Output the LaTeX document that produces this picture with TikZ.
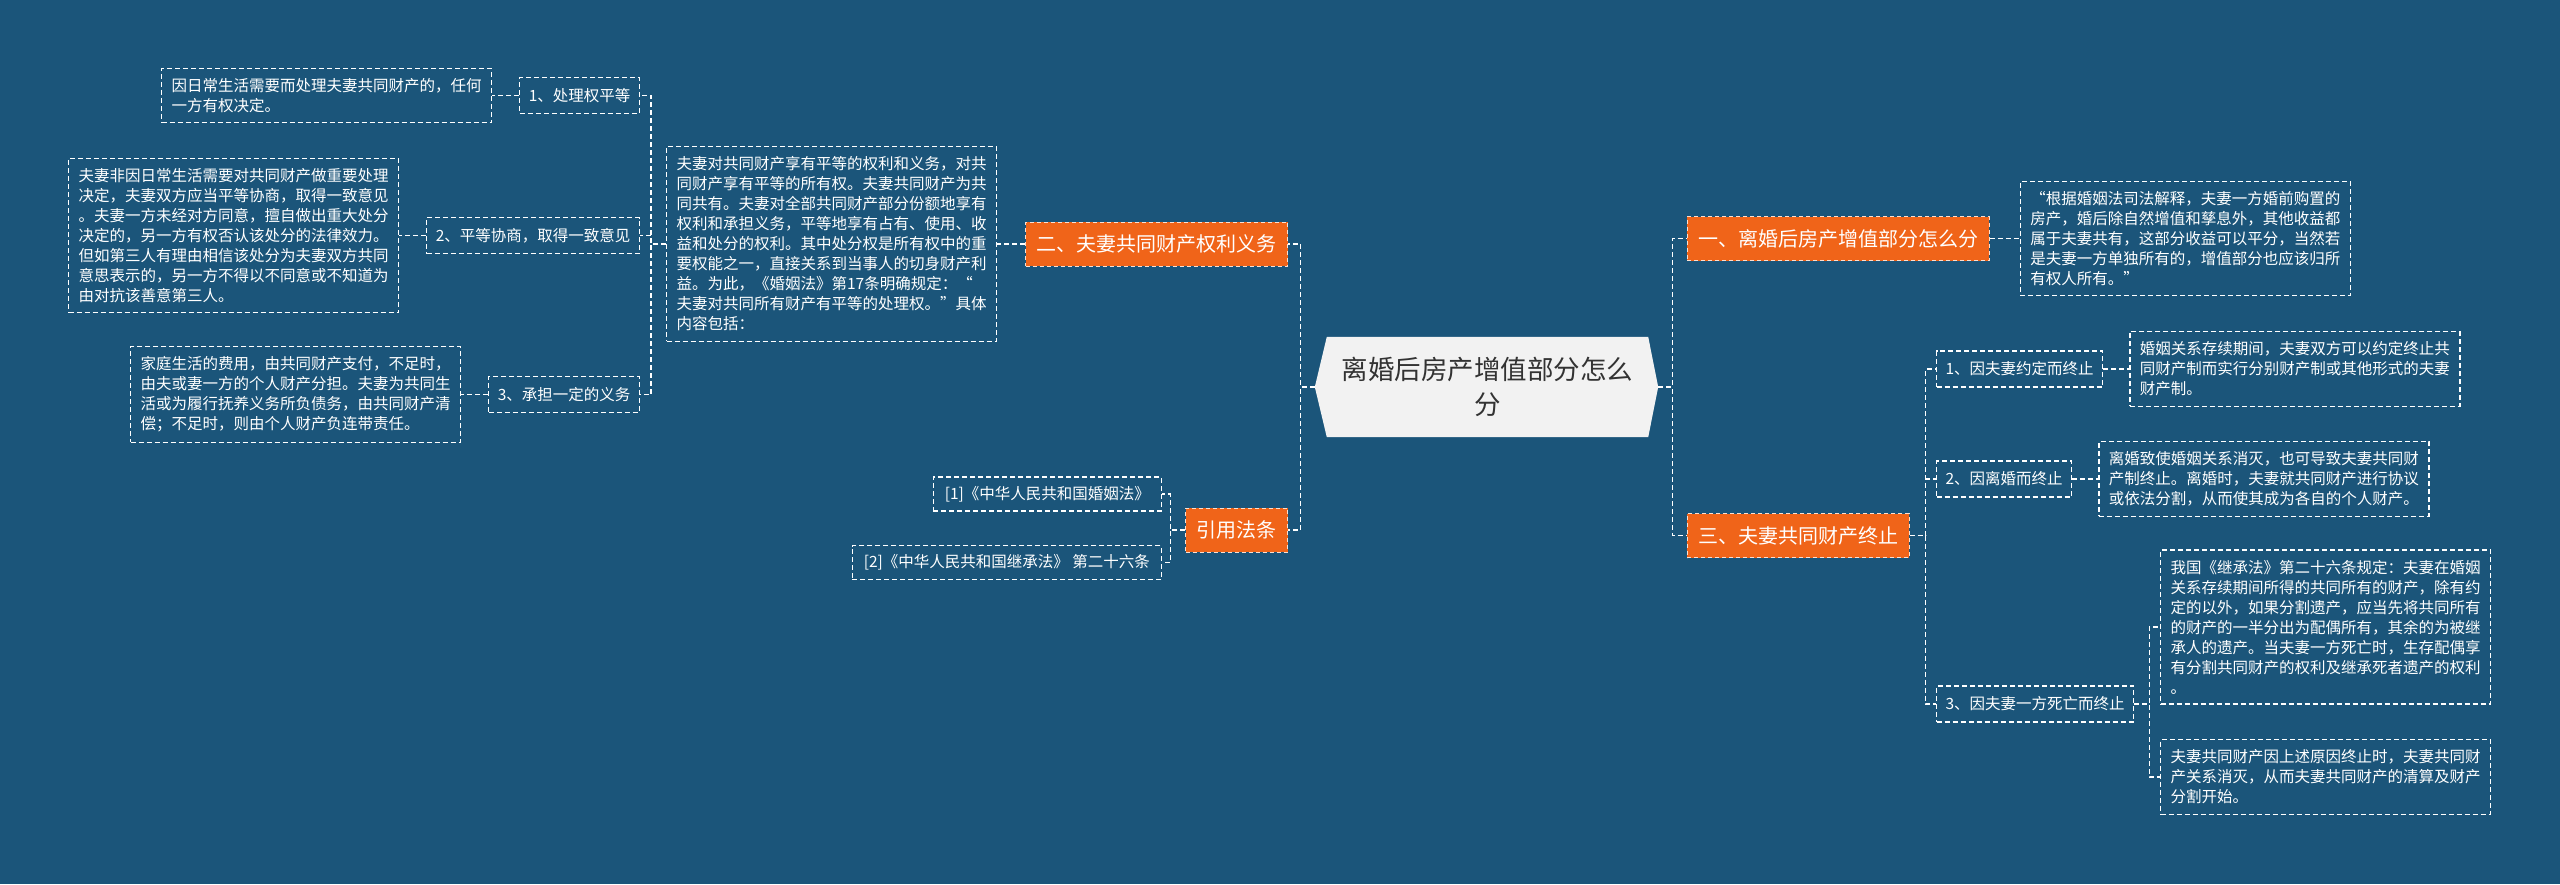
\documentclass[tikz,border=0pt]{standalone}
\usepackage{fontspec}
\newfontfamily\cjk{Noto Sans CJK SC}
\usetikzlibrary{positioning,backgrounds}
\definecolor{mapbg}{RGB}{27,85,122}
\definecolor{branchorange}{RGB}{240,100,25}
\definecolor{rootgray}{RGB}{242,242,242}
\definecolor{roottext}{RGB}{51,51,51}

\begin{document}
\begin{tikzpicture}[
  x=1pt,y=-1pt,
  node distance=27pt,
  every node/.style={font=\cjk,text=white},
  rootnode/.style={inner sep=0pt,minimum width=321pt,minimum height=100pt,
                   align=center,text=roottext,font=\cjk\fontsize{26.5}{35}\selectfont},
  mainbranch/.style={fill=branchorange,draw=white!80!branchorange,dash pattern=on 4pt off 3pt,
                     line width=0.8pt,inner xsep=11pt,minimum height=44pt,
                     font=\cjk\fontsize{20}{24}\selectfont},
  subitem/.style={draw=white,dash pattern=on 5pt off 3pt,line width=1.2pt,inner xsep=9pt,
                  minimum height=36pt,font=\cjk\fontsize{15.5}{20}\selectfont},
  leafbox/.style={subitem,align=left,inner xsep=10pt,inner ysep=10pt},
  refbox/.style={subitem,inner xsep=11.5pt,minimum height=34pt},
  conn/.style={draw=white,dash pattern=on 5pt off 3pt,line width=1.2pt}
]
\begin{scope}[on background layer]
  \fill[mapbg] (0,0) rectangle (2560,884);
\end{scope}
\useasboundingbox (0,0) rectangle (2560,884);

% centre
\node[rootnode] (root) at (1487.5,387) {离婚后房产增值部分怎么\\分};
\begin{scope}[on background layer]
  \fill[rootgray] (root.north west) -- (root.north east) -- ([xshift=10pt]root.east)
    -- (root.south east) -- (root.south west) -- ([xshift=-12pt]root.west) -- cycle;
\end{scope}
\coordinate (rootL) at ([xshift=-12pt]root.west);
\coordinate (rootR) at ([xshift=10pt]root.east);

% left side
\node[mainbranch,anchor=east] (sec2) at (1288,244) {二、夫妻共同财产权利义务};
\node[leafbox,left=28pt of sec2] (desc2)
  {夫妻对共同财产享有平等的权利和义务，对共\\同财产享有平等的所有权。夫妻共同财产为共\\同共有。夫妻对全部共同财产部分份额地享有\\权利和承担义务，平等地享有占有、使用、收\\益和处分的权利。其中处分权是所有权中的重\\要权能之一，直接关系到当事人的切身财产利\\益。为此，《婚姻法》第17条明确规定：“\\夫妻对共同所有财产有平等的处理权。”具体\\内容包括：};
\node[subitem,anchor=east] (pt1) at (640,95.5) {1、处理权平等};
\node[subitem,anchor=east] (pt2) at (640,235.5) {2、平等协商，取得一致意见};
\node[subitem,anchor=east] (pt3) at (640,394.5) {3、承担一定的义务};
\node[leafbox,left=of pt1] (pt1note)
  {因日常生活需要而处理夫妻共同财产的，任何\\一方有权决定。};
\node[leafbox,left=of pt2] (pt2note)
  {夫妻非因日常生活需要对共同财产做重要处理\\决定，夫妻双方应当平等协商，取得一致意见\\。夫妻一方未经对方同意，擅自做出重大处分\\决定的，另一方有权否认该处分的法律效力。\\但如第三人有理由相信该处分为夫妻双方共同\\意思表示的，另一方不得以不同意或不知道为\\由对抗该善意第三人。};
\node[leafbox,left=of pt3] (pt3note)
  {家庭生活的费用，由共同财产支付，不足时，\\由夫或妻一方的个人财产分担。夫妻为共同生\\活或为履行抚养义务所负债务，由共同财产清\\偿；不足时，则由个人财产负连带责任。};

\node[mainbranch,anchor=east] (cite) at (1288,530) {引用法条};
\node[refbox,anchor=east] (ref1) at (1162,494) {[1]《中华人民共和国婚姻法》};
\node[refbox,anchor=east] (ref2) at (1162,562.5) {[2]《中华人民共和国继承法》 第二十六条};

\draw[conn] (rootL) -- ++(-14,0) |- (sec2.east);
\draw[conn] (rootL) -- ++(-14,0) |- (cite.east);
\draw[conn] (sec2.west) -- (desc2.east);
\draw[conn] (desc2.west) -- ++(-15,0) |- (pt1.east);
\draw[conn] (desc2.west) -- ++(-15,0) |- (pt2.east);
\draw[conn] (desc2.west) -- ++(-15,0) |- (pt3.east);
\draw[conn] (pt1.west) -- (pt1note.east);
\draw[conn] (pt2.west) -- (pt2note.east);
\draw[conn] (pt3.west) -- (pt3note.east);
\draw[conn] (cite.west) -- ++(-15,0) |- (ref1.east);
\draw[conn] (cite.west) -- ++(-15,0) |- (ref2.east);

% right side
\node[mainbranch,anchor=west] (sec1) at (1687,238.5) {一、离婚后房产增值部分怎么分};
\node[leafbox,right=30pt of sec1] (note1)
  {“根据婚姻法司法解释，夫妻一方婚前购置的\\房产，婚后除自然增值和孳息外，其他收益都\\属于夫妻共有，这部分收益可以平分，当然若\\是夫妻一方单独所有的，增值部分也应该归所\\有权人所有。”};
\node[mainbranch,anchor=west] (sec3) at (1687,535.5) {三、夫妻共同财产终止};
\node[subitem,anchor=west] (end1) at (1936,369) {1、因夫妻约定而终止};
\node[subitem,anchor=west] (end2) at (1936,479) {2、因离婚而终止};
\node[subitem,anchor=west] (end3) at (1936,704) {3、因夫妻一方死亡而终止};
\node[leafbox,right=26pt of end1] (end1note)
  {婚姻关系存续期间，夫妻双方可以约定终止共\\同财产制而实行分别财产制或其他形式的夫妻\\财产制。};
\node[leafbox,right=26pt of end2] (end2note)
  {离婚致使婚姻关系消灭，也可导致夫妻共同财\\产制终止。离婚时，夫妻就共同财产进行协议\\或依法分割，从而使其成为各自的个人财产。};
\node[leafbox,anchor=west] (end3a) at (2160,627)
  {我国《继承法》第二十六条规定：夫妻在婚姻\\关系存续期间所得的共同所有的财产，除有约\\定的以外，如果分割遗产，应当先将共同所有\\的财产的一半分出为配偶所有，其余的为被继\\承人的遗产。当夫妻一方死亡时，生存配偶享\\有分割共同财产的权利及继承死者遗产的权利\\。};
\node[leafbox,anchor=west] (end3b) at (2160,777)
  {夫妻共同财产因上述原因终止时，夫妻共同财\\产关系消灭，从而夫妻共同财产的清算及财产\\分割开始。};

\draw[conn] (rootR) -- ++(14,0) |- (sec1.west);
\draw[conn] (rootR) -- ++(14,0) |- (sec3.west);
\draw[conn] (sec1.east) -- (note1.west);
\draw[conn] (sec3.east) -- ++(16,0) |- (end1.west);
\draw[conn] (sec3.east) -- ++(16,0) |- (end2.west);
\draw[conn] (sec3.east) -- ++(16,0) |- (end3.west);
\draw[conn] (end1.east) -- (end1note.west);
\draw[conn] (end2.east) -- (end2note.west);
\draw[conn] (end3.east) -- ++(15,0) |- (end3a.west);
\draw[conn] (end3.east) -- ++(15,0) |- (end3b.west);
\end{tikzpicture}
\end{document}
